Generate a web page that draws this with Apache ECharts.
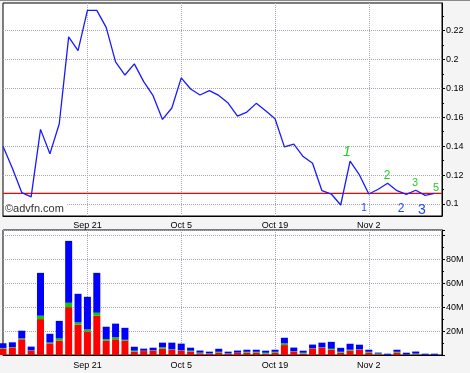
<!DOCTYPE html>
<html>
<head>
<meta charset="utf-8">
<script src="https://cdn.jsdelivr.net/npm/echarts@6/dist/echarts.min.js"></script>
<style>
html,body{margin:0;padding:0;background:#f4f4f4;}
#c{width:470px;height:373px;}
</style>
</head>
<body>
<div id="c"></div>
<script>
const dates = ['Sep 8','Sep 9','Sep 10','Sep 11','Sep 14','Sep 15','Sep 16','Sep 17','Sep 18','Sep 21','Sep 22','Sep 23','Sep 24','Sep 25','Sep 28','Sep 29','Sep 30','Oct 1','Oct 2','Oct 5','Oct 6','Oct 7','Oct 8','Oct 9','Oct 12','Oct 13','Oct 14','Oct 15','Oct 16','Oct 19','Oct 20','Oct 21','Oct 22','Oct 23','Oct 26','Oct 27','Oct 28','Oct 29','Oct 30','Nov 2','Nov 3','Nov 4','Nov 5','Nov 6','Nov 9','Nov 10','Nov 11'];
const dateTicks = ['Sep 21','Oct 5','Oct 19','Nov 2'];
const prices = [0.140,0.1247,0.1079,0.1049,0.1516,0.1347,0.1555,0.2156,0.2061,0.2339,0.2339,0.2221,0.1983,0.1892,0.1969,0.1846,0.1749,0.1585,0.1664,0.1872,0.1795,0.1754,0.1784,0.1751,0.1698,0.1608,0.1636,0.1696,0.1645,0.1590,0.1395,0.1414,0.1328,0.1282,0.1092,0.1069,0.0993,0.1296,0.1201,0.1069,0.1102,0.1143,0.1092,0.1067,0.1095,0.1060,0.1074];
const priceTicks = [0.10,0.12,0.14,0.16,0.18,0.20,0.22];
const priceMinorTicks = [0.11,0.13,0.15,0.17,0.19,0.21,0.23];
const volRed = [5.3,6.4,13.1,3.6,30.0,9.7,11.9,40.0,25.3,19.7,32.8,11.9,13.1,11.9,2.8,3.3,3.6,5.3,4.4,3.6,2.8,1.4,1.1,1.9,1.1,1.7,1.9,1.9,1.1,1.9,8.3,2.8,1.1,5.3,6.1,4.4,1.9,3.6,4.4,1.9,0.6,0.1,1.9,0.2,0.6,0.1,0.1];
const volGreen = [0.6,0.3,0.8,0.3,2.8,0.8,1.9,3.6,1.9,1.7,2.5,1.4,1.7,0.8,0.8,0.3,0.3,1.1,0.3,0.3,0.8,0.6,0.3,0.8,0.3,0.3,0.8,0.8,0.8,0.8,1.4,0.3,0.8,0.3,0.3,0.8,0.8,0.8,0.3,0.8,0.6,0.1,0.8,0.2,0.6,0.1,0.1];
const volBlue = [3.9,3.9,6.4,3.1,35.8,7.2,14.7,51.7,23.9,27.2,33.3,10.3,11.4,10.0,3.3,1.7,2.2,3.9,5.6,5.6,2.5,1.7,1.4,2.5,1.4,1.7,1.7,1.7,1.7,1.7,4.7,3.1,1.7,3.1,3.9,5.8,3.3,5.0,3.9,1.7,0.8,0.9,1.7,1.5,1.7,0.9,0.9];
const volLabels = [20,40,60,80];

const X_MIN = 0, X_MAX = 46.8;
const tickIdx = dateTicks.map(d => dates.indexOf(d));
const pair = arr => arr.map((v,i) => [i, v]);
const pairVI = arr => arr.map((v,i) => [v, i]);
const FONT = 'Liberation Sans, Arial, sans-serif';
const gridLine = {show:true, lineStyle:{color:'#a6a6b4', type:[1,1], width:1}};
const lastPrice = prices[prices.length-1];

const chart = echarts.init(document.getElementById('c'), null, {renderer:'canvas'});
const xCommon = {
  type:'value', min:X_MIN, max:X_MAX,
  axisLine:{show:true, onZero:false, lineStyle:{color:'#000'}},
  axisTick:{show:false, customValues: tickIdx},
  splitLine: gridLine
};
const barCommon = {type:'bar', xAxisIndex:1, yAxisIndex:2, stack:'v', barWidth:7, encode:{x:1, y:0}};
chart.setOption({
  animation:false,
  backgroundColor:'#f4f4f4',
  grid:[
    {left:3, top:3, right:28, height:213, show:true, borderColor:'#000', borderWidth:1, backgroundColor:'#fff'},
    {left:3, top:230, right:28, height:125, show:true, borderColor:'#000', borderWidth:1, backgroundColor:'#fff'}
  ],
  xAxis:[
    Object.assign({}, xCommon, {gridIndex:0, position:'bottom',
      axisLabel:{show:true, customValues: tickIdx, formatter: v => dates[Math.round(v)], color:'#000', fontFamily:FONT, fontSize:9, margin:5}}),
    Object.assign({}, xCommon, {gridIndex:1, position:'bottom',
      axisLabel:{show:true, customValues: tickIdx, formatter: v => dates[Math.round(v)], color:'#000', fontFamily:FONT, fontSize:9, margin:6}})
  ],
  yAxis:[
    {type:'value', gridIndex:0, position:'right', min:0.0917, max:0.239,
      axisLine:{show:true, onZero:false, lineStyle:{color:'#000'}},
      axisTick:{show:true, inside:false, length:3, customValues: priceTicks, lineStyle:{color:'#000'}},
      axisLabel:{show:true, customValues: priceTicks, formatter: v => String(+v.toFixed(2)), color:'#000', fontFamily:FONT, fontSize:9, margin:4},
      splitLine: gridLine},
    {type:'value', gridIndex:0, position:'right', min:0.0917, max:0.239,
      axisLine:{show:false, onZero:false},
      axisTick:{show:true, inside:false, length:2, customValues: priceMinorTicks, lineStyle:{color:'#000'}},
      axisLabel:{show:false}, splitLine:{show:false}},
    {type:'value', gridIndex:1, position:'right', min:0, max:104.4, interval:20,
      axisLine:{show:true, onZero:false, lineStyle:{color:'#000'}},
      axisTick:{show:true, inside:false, length:3, lineStyle:{color:'#000'}},
      minorTick:{show:true, splitNumber:2, length:2, lineStyle:{color:'#000'}},
      axisLabel:{show:true, formatter: v => volLabels.indexOf(Math.round(v)) >= 0 ? Math.round(v) + 'M' : '', color:'#000', fontFamily:FONT, fontSize:9, margin:4},
      splitLine: gridLine}
  ],
  series:[
    {type:'line', name:'last', xAxisIndex:0, yAxisIndex:0, data: [[X_MIN, lastPrice],[X_MAX, lastPrice]], symbol:'none',
      lineStyle:{color:'#ff0000', width:1.2}, z:4, silent:true},
    {type:'line', name:'price', xAxisIndex:0, yAxisIndex:0, data: pair(prices), symbol:'none',
      lineStyle:{color:'#1a1aff', width:1.3}, z:5},
    Object.assign({}, barCommon, {name:'red', data: pairVI(volRed), itemStyle:{color:'#ff0000'}}),
    Object.assign({}, barCommon, {name:'green', data: pairVI(volGreen), itemStyle:{color:'#00d000'}}),
    Object.assign({}, barCommon, {name:'blue', data: pairVI(volBlue), itemStyle:{color:'#0000ff'}})
  ],
  graphic:[
    {type:'rect', shape:{x:0, y:0, width:470, height:1}, style:{fill:'#888888'}, z:100},
    {type:'rect', shape:{x:4, y:202, width:63, height:13}, style:{fill:'#ffffff'}, z:50},
    {type:'text', x:5, y:209, z:51, style:{text:'©advfn.com', fill:'#333', font:'11px ' + FONT, textVerticalAlign:'middle'}},
    {type:'text', x:347, y:152, z:60, style:{text:'1', fill:'#22cc22', font:'italic 14px ' + FONT, textAlign:'center', textVerticalAlign:'middle'}},
    {type:'text', x:387, y:176, z:60, style:{text:'2', fill:'#22cc22', font:'12px ' + FONT, textAlign:'center', textVerticalAlign:'middle'}},
    {type:'text', x:415, y:183, z:60, style:{text:'3', fill:'#22cc22', font:'11px ' + FONT, textAlign:'center', textVerticalAlign:'middle'}},
    {type:'text', x:436, y:188, z:60, style:{text:'5', fill:'#22cc22', font:'11px ' + FONT, textAlign:'center', textVerticalAlign:'middle'}},
    {type:'text', x:364, y:208, z:60, style:{text:'1', fill:'#2244ff', font:'10px ' + FONT, textAlign:'center', textVerticalAlign:'middle'}},
    {type:'text', x:401, y:209, z:60, style:{text:'2', fill:'#2244ff', font:'12px ' + FONT, textAlign:'center', textVerticalAlign:'middle'}},
    {type:'text', x:422, y:210, z:60, style:{text:'3', fill:'#2244ff', font:'14px ' + FONT, textAlign:'center', textVerticalAlign:'middle'}}
  ]
});
</script>
</body>
</html>
